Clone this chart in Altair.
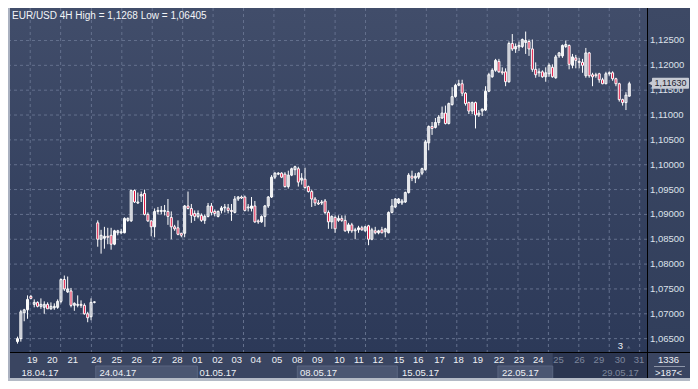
import altair as alt
import pandas as pd

# ---------------- data ----------------
title_text = "EUR/USD 4H High = 1,1268 Low = 1,06405"
last_price = 1.1163
last_label = "1,11630"
bars_info = ["1336", ">187<"]
marker_text = "3"

opens = [1.0644,1.0650,1.0702,1.0708,1.0735,1.0719,1.0723,1.0715,1.0713,1.0719,1.0710,1.0712,1.0713,1.0725,1.0769,1.0744,1.0746,1.0717,1.0717,1.0719,1.0717,1.0700,1.0694,1.0723,
         1.0883,1.0850,1.0852,1.0856,1.0858,1.0840,1.0863,1.0863,1.0863,1.0888,1.0887,1.0948,1.0923,1.0937,1.0942,1.0900,1.0887,1.0875,1.0906,1.0906,1.0906,1.0906,1.0894,1.0875,1.0873,1.0862,
         1.0862,1.0917,1.0912,1.0902,1.0896,1.0898,1.0888,1.0896,1.0917,1.0906,1.0896,1.0908,1.0913,1.0913,1.0908,1.0904,1.0931,1.0935,1.0935,1.0913,1.0912,1.0917,1.0887,1.0885,1.0896,1.0917,
         1.0935,1.0975,1.0981,1.0983,1.0981,1.0956,1.0979,1.0990,1.0992,1.0969,1.0971,1.0956,1.0946,1.0931,1.0923,1.0923,1.0927,1.0904,1.0885,1.0894,1.0888,1.0892,1.0888,1.0867,1.0879,1.0867,
         1.0869,1.0873,1.0867,1.0877,1.0850,1.0867,1.0863,1.0869,1.0865,1.0863,1.0904,1.0915,1.0923,1.0923,1.0925,1.0944,1.0977,1.0973,1.0975,1.0983,1.0990,1.1044,1.1077,1.1075,1.1085,1.1094,
         1.1104,1.1083,1.1121,1.1137,1.1160,1.1163,1.1144,1.1125,1.1108,1.1125,1.1100,1.1108,1.1110,1.1148,1.1177,1.1190,1.1208,1.1187,1.1187,1.1167,1.1244,1.1233,1.1237,1.1238,1.1246,1.1248,
         1.1233,1.1192,1.1185,1.1187,1.1177,1.1183,1.1196,1.1175,1.1219,1.1219,1.1238,1.1240,1.1200,1.1215,1.1208,1.1206,1.1179,1.1225,1.1181,1.1181,1.1183,1.1171,1.1163,1.1183,1.1185,1.1173,
         1.1163,1.1131,1.1125,1.1138]
highs = [1.0654,1.0708,1.0710,1.0737,1.0738,1.0729,1.0725,1.0731,1.0725,1.0723,1.0723,1.0721,1.0729,1.0771,1.0777,1.0775,1.0752,1.0723,1.0737,1.0727,1.0721,1.0704,1.0731,1.0725,
         1.0888,1.0869,1.0875,1.0873,1.0873,1.0869,1.0869,1.0871,1.0894,1.0894,1.0950,1.0950,1.0944,1.0946,1.0950,1.0904,1.0888,1.0912,1.0915,1.0917,1.0919,1.0931,1.0906,1.0879,1.0888,1.0863,
         1.0919,1.0946,1.0921,1.0908,1.0908,1.0902,1.0900,1.0923,1.0923,1.0910,1.0908,1.0917,1.0921,1.0921,1.0921,1.0937,1.0937,1.0938,1.0938,1.0921,1.0935,1.0927,1.0890,1.0898,1.0919,1.0937,
         1.0979,1.0985,1.0985,1.0985,1.0985,1.0988,1.0994,1.0998,1.0996,1.0983,1.0994,1.0958,1.0950,1.0935,1.0929,1.0929,1.0931,1.0908,1.0898,1.0898,1.0898,1.0898,1.0898,1.0883,1.0883,1.0873,
         1.0877,1.0877,1.0877,1.0879,1.0873,1.0875,1.0869,1.0875,1.0873,1.0906,1.0931,1.0933,1.0933,1.0931,1.0946,1.0983,1.0988,1.0983,1.0985,1.0994,1.1050,1.1079,1.1086,1.1094,1.1100,1.1117,
         1.1119,1.1125,1.1156,1.1163,1.1171,1.1171,1.1146,1.1127,1.1127,1.1127,1.1110,1.1113,1.1158,1.1185,1.1194,1.1213,1.1213,1.1196,1.1194,1.1248,1.1263,1.1244,1.1248,1.1254,1.1268,1.1252,
         1.1252,1.1206,1.1194,1.1190,1.1196,1.1204,1.1202,1.1221,1.1227,1.1242,1.1250,1.1242,1.1223,1.1221,1.1215,1.1213,1.1235,1.1227,1.1185,1.1185,1.1185,1.1175,1.1187,1.1188,1.1188,1.1175,
         1.1165,1.1133,1.1146,1.1167]
lows = [1.0640,1.0644,1.0685,1.0690,1.0729,1.0713,1.0713,1.0710,1.0700,1.0710,1.0708,1.0708,1.0710,1.0721,1.0746,1.0742,1.0713,1.0706,1.0713,1.0712,1.0698,1.0683,1.0687,1.0721,
        1.0835,1.0821,1.0831,1.0840,1.0829,1.0838,1.0858,1.0860,1.0862,1.0885,1.0885,1.0923,1.0921,1.0925,1.0898,1.0885,1.0856,1.0854,1.0900,1.0900,1.0898,1.0879,1.0850,1.0867,1.0858,1.0854,
        1.0854,1.0910,1.0883,1.0887,1.0892,1.0885,1.0881,1.0894,1.0898,1.0896,1.0894,1.0902,1.0904,1.0902,1.0887,1.0902,1.0927,1.0931,1.0906,1.0906,1.0906,1.0883,1.0881,1.0883,1.0875,1.0913,
        1.0933,1.0971,1.0979,1.0973,1.0954,1.0952,1.0977,1.0979,1.0956,1.0960,1.0952,1.0944,1.0915,1.0917,1.0919,1.0919,1.0900,1.0871,1.0871,1.0863,1.0885,1.0885,1.0865,1.0862,1.0863,1.0850,
        1.0863,1.0867,1.0865,1.0838,1.0848,1.0860,1.0860,1.0862,1.0854,1.0862,1.0902,1.0913,1.0921,1.0919,1.0923,1.0942,1.0967,1.0963,1.0971,1.0979,1.0988,1.1029,1.1060,1.1073,1.1079,1.1092,
        1.1081,1.1081,1.1119,1.1135,1.1158,1.1138,1.1119,1.1102,1.1102,1.1073,1.1096,1.1098,1.1108,1.1146,1.1175,1.1187,1.1185,1.1181,1.1158,1.1165,1.1229,1.1225,1.1229,1.1235,1.1223,1.1219,
        1.1187,1.1175,1.1177,1.1175,1.1167,1.1177,1.1175,1.1173,1.1215,1.1215,1.1235,1.1192,1.1194,1.1194,1.1194,1.1185,1.1175,1.1175,1.1158,1.1175,1.1165,1.1162,1.1162,1.1179,1.1169,1.1158,
        1.1127,1.1119,1.1110,1.1137]
closes = [1.0650,1.0704,1.0708,1.0729,1.0731,1.0723,1.0715,1.0719,1.0719,1.0710,1.0715,1.0715,1.0725,1.0769,1.0750,1.0750,1.0717,1.0721,1.0719,1.0717,1.0700,1.0692,1.0723,1.0724,
          1.0850,1.0858,1.0856,1.0854,1.0840,1.0867,1.0867,1.0865,1.0892,1.0892,1.0948,1.0925,1.0925,1.0940,1.0900,1.0887,1.0875,1.0906,1.0908,1.0908,1.0908,1.0896,1.0875,1.0871,1.0860,1.0858,
          1.0917,1.0912,1.0898,1.0896,1.0902,1.0888,1.0896,1.0917,1.0904,1.0902,1.0906,1.0913,1.0915,1.0908,1.0906,1.0931,1.0935,1.0933,1.0908,1.0915,1.0917,1.0885,1.0885,1.0896,1.0917,1.0935,
          1.0975,1.0983,1.0983,1.0975,1.0956,1.0979,1.0992,1.0996,1.0965,1.0973,1.0954,1.0946,1.0931,1.0923,1.0921,1.0925,1.0904,1.0885,1.0896,1.0871,1.0892,1.0888,1.0867,1.0879,1.0867,1.0869,
          1.0873,1.0869,1.0875,1.0850,1.0869,1.0863,1.0867,1.0863,1.0871,1.0904,1.0917,1.0931,1.0931,1.0927,1.0944,1.0979,1.0973,1.0977,1.0983,1.0992,1.1046,1.1077,1.1073,1.1085,1.1096,1.1104,
          1.1083,1.1123,1.1137,1.1160,1.1163,1.1144,1.1123,1.1108,1.1125,1.1100,1.1104,1.1112,1.1148,1.1181,1.1190,1.1210,1.1187,1.1185,1.1167,1.1244,1.1233,1.1238,1.1240,1.1252,1.1250,1.1233,
          1.1192,1.1181,1.1187,1.1177,1.1185,1.1200,1.1177,1.1217,1.1225,1.1240,1.1242,1.1202,1.1217,1.1210,1.1206,1.1200,1.1225,1.1179,1.1177,1.1179,1.1171,1.1163,1.1183,1.1185,1.1173,1.1163,
          1.1131,1.1125,1.1140,1.1163]

price_ticks = [1.065, 1.070, 1.075, 1.080, 1.085, 1.090, 1.095, 1.100, 1.105, 1.110, 1.115, 1.120, 1.125]

day_labels = ["19","20","21","24","25","26","27","28","01","02","03","04","05","08","09","10",
              "11","12","15","16","17","18","19","22","23","24","25","26","29","30","31"]
day_pos = [4.4,10.4,16.5,23.6,29.7,35.7,41.7,47.8,53.8,59.8,65.6,71.3,77.6,83.7,89.7,96.3,
           102.1,107.8,114.1,119.9,126.2,131.9,137.7,144.0,150.0,155.8,161.8,168.1,173.9,180.2,185.9]
day_active = ["yes"] * 26 + ["no"] * 5

week_labels = ["18.04.17","24.04.17","01.05.17","08.05.17","15.05.17","22.05.17","29.05.17"]
week_pos = [1.2, 24.5, 54.4, 84.5, 115.0, 144.9, 174.8]
week_active = ["yes"] * 6 + ["no"]
box_start = [23.4, 83.7, 143.7]
box_end = [53.8, 113.6, 160.1]
inactive_start = [160.1]

grid_x = [3.8,12.9,22.1,31.2,40.3,49.4,58.5,67.6,76.7,85.9,95.0,104.1,113.2,122.3,131.4,
          140.5,149.7,158.8,167.9,177.0,186.1]

# ---------------- layout ----------------
W, H = 639, 344          # plot area
RP, BS = 43, 29          # right panel width, bottom strip height
FONT = "Liberation Sans"
FS = 9.5
TXT = "#eef0f5"
DIM = "#7d869c"
GRID = "#64708d"

xs = alt.Scale(domain=[-1.35, 186.8], nice=False, zero=False)
ys = alt.Scale(domain=[1.06231, 1.13154], nice=False, zero=False)
noax = alt.Axis(labels=False, ticks=False, grid=False, domain=False, title=None)
noay = alt.Axis(labels=False, ticks=False, grid=False, domain=False, title=None)

df = pd.DataFrame({"o": opens, "h": highs, "l": lows, "c": closes})
df["i"] = range(len(df))
df["top"] = df[["o", "c"]].max(axis=1)
df["bot"] = df[["o", "c"]].min(axis=1)
df["h"] = df[["h", "top"]].max(axis=1)
df["l"] = df[["l", "bot"]].min(axis=1)
df["dir"] = ["down" if c < o else "up" for o, c in zip(opens, closes)]

ticks_df = pd.DataFrame({"p": price_ticks})
ticks_df["t"] = [f"{p:.5f}".replace(".", ",") for p in price_ticks]

one = pd.DataFrame({"k": [0]})

bg = alt.Chart(one).mark_rect(
    color=alt.Gradient(gradient="linear",
                       stops=[alt.GradientStop(color="#414d6a", offset=0),
                              alt.GradientStop(color="#2c3958", offset=1)],
                       x1=0, x2=0, y1=0, y2=1)
).encode(x=alt.value(0), x2=alt.value(W), y=alt.value(0), y2=alt.value(H))

panel = alt.Chart(one).mark_rect(
    color=alt.Gradient(gradient="linear",
                       stops=[alt.GradientStop(color="#3d4965", offset=0),
                              alt.GradientStop(color="#313e5b", offset=1)],
                       x1=0, x2=0, y1=0, y2=1)
).encode(x=alt.value(W), x2=alt.value(W + RP), y=alt.value(0), y2=alt.value(H))

strip = alt.Chart(one).mark_rect(color="#3a4561").encode(
    x=alt.value(0), x2=alt.value(W + RP), y=alt.value(H), y2=alt.value(H + BS))

boxes = alt.Chart(pd.DataFrame({"s": box_start, "e": box_end})).mark_rect(
    color="#4b5672", stroke="#5a6580", strokeWidth=1
).encode(x=alt.X("s:Q", scale=xs, axis=noax), x2="e:Q",
         y=alt.value(H + 14), y2=alt.value(H + 27))

inactive = alt.Chart(pd.DataFrame({"s": inactive_start})).mark_rect(color="#2b3550").encode(
    x=alt.X("s:Q", scale=xs, axis=noax), x2=alt.value(W), y=alt.value(H + 1), y2=alt.value(H + 27))

gx = alt.Chart(pd.DataFrame({"g": grid_x})).mark_rule(
    color=GRID, strokeDash=[3, 3], strokeWidth=1
).encode(x=alt.X("g:Q", scale=xs, axis=noax), y=alt.value(0), y2=alt.value(H))

gy = alt.Chart(ticks_df).mark_rule(
    color=GRID, strokeDash=[3, 3], strokeWidth=1
).encode(y=alt.Y("p:Q", scale=ys, axis=noay), x=alt.value(0), x2=alt.value(W))

ylabels = alt.Chart(ticks_df).mark_text(
    align="left", baseline="middle", font=FONT, fontSize=FS, color="#dde1ea"
).encode(y=alt.Y("p:Q", scale=ys, axis=noay), x=alt.value(W + 3), text="t:N")

wicks = alt.Chart(df).mark_rule(color="white", strokeWidth=1).encode(
    x=alt.X("i:Q", scale=xs, axis=noax), y=alt.Y("l:Q", scale=ys, axis=noay), y2="h:Q")

bodies = alt.Chart(df).mark_bar(size=2, stroke="white", strokeWidth=1).encode(
    x=alt.X("i:Q", scale=xs, axis=noax), y=alt.Y("top:Q", scale=ys, axis=noay), y2="bot:Q",
    fill=alt.Fill("dir:N", scale=alt.Scale(domain=["up", "down"], range=["transparent", "#e0103d"]),
                  legend=None))

frame = alt.Chart(one).mark_rule(color="black", strokeWidth=1).encode(
    x=alt.value(W + 0.5), y=alt.value(0), y2=alt.value(H + BS))
frame2 = alt.Chart(one).mark_rule(color="black", strokeWidth=1).encode(
    x=alt.value(0), x2=alt.value(W + RP), y=alt.value(H + 0.5))
leftline = alt.Chart(one).mark_rule(color="#aab1c0", strokeWidth=2).encode(
    x=alt.value(1), y=alt.value(0), y2=alt.value(H + BS))
bottomline = alt.Chart(one).mark_rule(color="#b4bac6", strokeWidth=3).encode(
    x=alt.value(0), x2=alt.value(W + RP), y=alt.value(H + BS - 1.5))

title = alt.Chart(pd.DataFrame({"t": [title_text]})).mark_text(
    align="left", baseline="middle", font=FONT, fontSize=10, color="#f2f4f7"
).encode(x=alt.value(4), y=alt.value(8), text="t:N")

days = alt.Chart(pd.DataFrame({"p": day_pos, "t": day_labels, "a": day_active})).mark_text(
    align="center", baseline="middle", font=FONT, fontSize=FS
).encode(x=alt.X("p:Q", scale=xs, axis=noax), y=alt.value(H + 7.5), text="t:N",
         color=alt.Color("a:N", scale=alt.Scale(domain=["yes", "no"], range=[TXT, DIM]), legend=None))

weeks = alt.Chart(pd.DataFrame({"p": week_pos, "t": week_labels, "a": week_active})).mark_text(
    align="left", baseline="middle", font=FONT, fontSize=FS
).encode(x=alt.X("p:Q", scale=xs, axis=noax), y=alt.value(H + 20.5), text="t:N",
         color=alt.Color("a:N", scale=alt.Scale(domain=["yes", "no"], range=[TXT, DIM]), legend=None))

tag_df = pd.DataFrame({"p": [last_price], "t": [last_label]})
tag_box = alt.Chart(tag_df).mark_rect(color="#c6cad3", cornerRadius=1, yOffset=-6, y2Offset=5).encode(
    x=alt.value(W + 5), x2=alt.value(W + RP - 1), y=alt.Y("p:Q", scale=ys, axis=noay), y2="p:Q")
tag_arrow = alt.Chart(tag_df).mark_point(shape="triangle-left", filled=True, size=36,
                                         color="#c6cad3", opacity=1, yOffset=-0.5).encode(
    x=alt.value(W + 4), y=alt.Y("p:Q", scale=ys, axis=noay))
tag_text = alt.Chart(tag_df).mark_text(font=FONT, fontSize=9, color="#1d2230",
                                       align="center", baseline="middle", dy=-1).encode(
    x=alt.value(W + 5 + (RP - 6) / 2), y=alt.Y("p:Q", scale=ys, axis=noay), text="t:N")

info1 = alt.Chart(pd.DataFrame({"t": [bars_info[0]]})).mark_text(
    font=FONT, fontSize=FS, color=TXT, align="center", baseline="middle"
).encode(x=alt.value(W + RP / 2), y=alt.value(H + 7.5), text="t:N")
info2 = alt.Chart(pd.DataFrame({"t": [bars_info[1]]})).mark_text(
    font=FONT, fontSize=FS, color=TXT, align="center", baseline="middle"
).encode(x=alt.value(W + RP / 2), y=alt.value(H + 21), text="t:N")
info_line = alt.Chart(one).mark_rule(color="#8d95a8").encode(
    x=alt.value(W + 7), x2=alt.value(W + RP - 5), y=alt.value(H + 14.5))

marker = alt.Chart(pd.DataFrame({"p": [180.3], "t": [marker_text]})).mark_text(
    font=FONT, fontSize=FS, color=TXT, align="center", baseline="middle"
).encode(x=alt.X("p:Q", scale=xs, axis=noax), y=alt.value(H - 6), text="t:N")
marker_tri = alt.Chart(pd.DataFrame({"p": [182.8]})).mark_point(
    shape="triangle-up", filled=True, size=14, color="#59647d", opacity=1
).encode(x=alt.X("p:Q", scale=xs, axis=noax), y=alt.value(H - 5))

chart = alt.layer(
    bg, panel, gx, gy, strip, inactive, boxes, wicks, bodies, frame, frame2, leftline, bottomline,
    ylabels, title, days, weeks, tag_box, tag_arrow, tag_text, info1, info2, info_line, marker, marker_tri
).properties(
    width=W, height=H, autosize="none",
    padding={"left": 0, "top": 0, "right": RP, "bottom": BS},
    background="#36425f"
).configure_view(strokeWidth=0)

chart.save("out.html", embed_options={"renderer": "svg", "actions": False})
